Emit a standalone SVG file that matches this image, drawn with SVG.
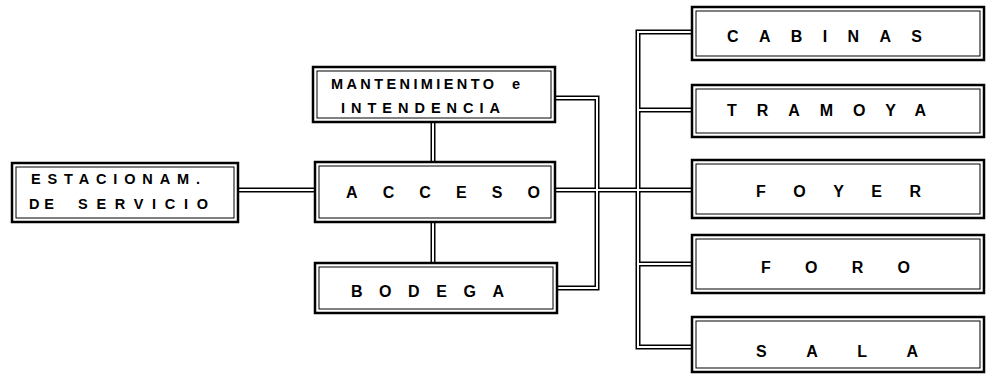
<svg xmlns="http://www.w3.org/2000/svg" xmlns:xlink="http://www.w3.org/1999/xlink" width="986" height="377" viewBox="0 0 986 377">
<style>
.bo{fill:#fff;stroke:#000;stroke-width:2.5}
.bi{fill:none;stroke:#000;stroke-width:1}
.t{font-family:"Liberation Sans",Arial,sans-serif;font-weight:bold;font-size:16px;fill:#000}
.t2{font-family:"Liberation Sans",Arial,sans-serif;font-weight:bold;font-size:14.5px;fill:#000}
.ck{fill:none;stroke:#000;stroke-width:5}
.cw{fill:none;stroke:#fff;stroke-width:2}
</style>
<defs>
<path id="c1" d="M238,190 H315"/>
<path id="c2" d="M433,122 V162"/>
<path id="c3" d="M433,222 V263"/>
<path id="c4" d="M555,98 H597 V288 H557"/>
<path id="c5" d="M555,190 H638"/>
<path id="c6" d="M692,32 H638 V347 H692"/>
<path id="c7" d="M638,110 H692 M638,190 H692 M638,264 H692"/>
</defs>
<rect width="986" height="377" fill="#fff"/>
<g id="connectors">
<g class="ck"><use xlink:href="#c1"/><use xlink:href="#c2"/><use xlink:href="#c3"/><use xlink:href="#c4"/><use xlink:href="#c5"/><use xlink:href="#c6"/><use xlink:href="#c7"/></g>
<g class="cw"><use xlink:href="#c1"/><use xlink:href="#c2"/><use xlink:href="#c3"/><use xlink:href="#c4"/><use xlink:href="#c5"/><use xlink:href="#c6"/><use xlink:href="#c7"/></g>
</g>
<g id="estacionam">
<rect class="bo" x="12" y="163" width="226" height="59"/>
<rect class="bi" x="16" y="167" width="218" height="51"/>
<text class="t2" x="31" y="184" textLength="169" lengthAdjust="spacing">ESTACIONAM.</text>
<text class="t2" x="29" y="209" textLength="25" lengthAdjust="spacing">DE</text>
<text class="t2" x="78" y="209" textLength="130" lengthAdjust="spacing">SERVICIO</text>
</g>
<g id="mantenimiento">
<rect class="bo" x="313" y="67" width="242" height="55"/>
<rect class="bi" x="317" y="71" width="234" height="47"/>
<text class="t2" x="331" y="89" textLength="163" lengthAdjust="spacing">MANTENIMIENTO</text>
<text class="t2" x="512" y="89">e</text>
<text class="t2" x="341" y="113" textLength="159" lengthAdjust="spacing">INTENDENCIA</text>
</g>
<g id="acceso">
<rect class="bo" x="315" y="162" width="240" height="60"/>
<rect class="bi" x="319" y="166" width="232" height="52"/>
<text class="t" x="346" y="198" textLength="194" lengthAdjust="spacing">ACCESO</text>
</g>
<g id="bodega">
<rect class="bo" x="315" y="263" width="242" height="50"/>
<rect class="bi" x="319" y="267" width="234" height="42"/>
<text class="t" x="351" y="297" textLength="153" lengthAdjust="spacing">BODEGA</text>
</g>
<g id="cabinas">
<rect class="bo" x="692" y="7" width="292" height="53"/>
<rect class="bi" x="696" y="11" width="284" height="45"/>
<text class="t" x="727" y="42" textLength="195" lengthAdjust="spacing">CABINAS</text>
</g>
<g id="tramoya">
<rect class="bo" x="692" y="85" width="292" height="52"/>
<rect class="bi" x="696" y="89" width="284" height="44"/>
<text class="t" x="727" y="116" textLength="199" lengthAdjust="spacing">TRAMOYA</text>
</g>
<g id="foyer">
<rect class="bo" x="692" y="160" width="292" height="58"/>
<rect class="bi" x="696" y="164" width="284" height="50"/>
<text class="t" x="756" y="197" textLength="165" lengthAdjust="spacing">FOYER</text>
</g>
<g id="foro">
<rect class="bo" x="692" y="235" width="292" height="58"/>
<rect class="bi" x="696" y="239" width="284" height="50"/>
<text class="t" x="761" y="273" textLength="149" lengthAdjust="spacing">FORO</text>
</g>
<g id="sala">
<rect class="bo" x="692" y="317" width="292" height="55"/>
<rect class="bi" x="696" y="321" width="284" height="47"/>
<text class="t" x="756" y="357" textLength="162" lengthAdjust="spacing">SALA</text>
</g>
</svg>
